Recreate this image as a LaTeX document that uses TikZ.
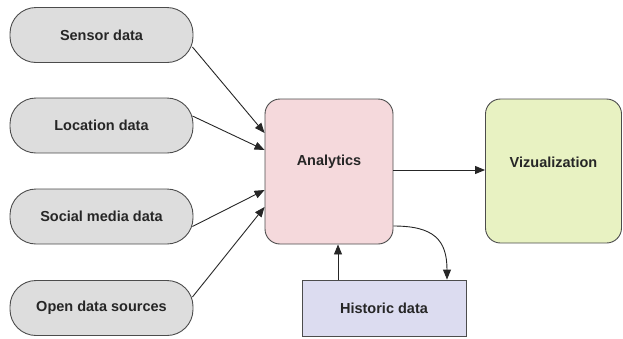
\documentclass[tikz,border=0pt]{standalone}
\usepackage{fontspec}
\setmainfont{Liberation Sans}
\usetikzlibrary{arrows.meta,calc}
\definecolor{pillgray}{HTML}{DDDDDD}
\definecolor{anapink}{HTML}{F5D9DC}
\definecolor{vizgreen}{HTML}{E8F2C2}
\definecolor{histblue}{HTML}{DCDCF0}
\begin{document}
\begin{tikzpicture}[x=1pt,y=-1pt,
  every node/.style={font=\bfseries\fontsize{14.5}{17}\selectfont, text=black!85},
  pill/.style={draw=black!70, line width=0.9pt, fill=pillgray, rounded corners=26pt,
    minimum width=183pt, minimum height=55pt, inner sep=0pt},
  bigbox/.style={draw=black!70, line width=0.9pt, rounded corners=15pt, inner sep=0pt},
  conn/.style={draw=black!85, line width=0.9pt, -{Triangle[length=10pt,width=8pt]}}]
\useasboundingbox (0,0) rectangle (623,338);
\node[pill] (sensor) at (101.5,35) {Sensor data};
\node[pill] (location) at (101.5,125.5) {Location data};
\node[pill] (social) at (101.5,216.5) {Social media data};
\node[pill] (open) at (101.5,308) {Open data sources};
\node[bigbox, fill=anapink, minimum width=128pt, minimum height=145pt] (analytics) at (329,171.5) {};
\node (analyticslabel) at (329,162) {Analytics};
\node[bigbox, fill=vizgreen, minimum width=136pt, minimum height=144pt] (viz) at (553.5,171) {};
\node (vizlabel) at (553.5,162) {Vizualization};
\node[draw=black!70, line width=0.9pt, fill=histblue, minimum width=164pt, minimum height=56pt, inner sep=0pt] (historic) at (384,308) {Historic data};
\draw[conn] ($(sensor.east)+(-1,12)$) -- ($(analytics.west)+(0,-38.5)$);
\draw[conn] ($(location.east)+(-1,-9.5)$) -- ($(analytics.west)+(0,-21.5)$);
\draw[conn] ($(social.east)+(-1,10)$) -- ($(analytics.west)+(0,18.5)$);
\draw[conn] ($(open.east)+(-1,-11)$) -- ($(analytics.west)+(0,35.5)$);
\draw[conn] ($(analytics.east)+(0,-1.5)$) -- ($(viz.west)+(0,-1)$);
\draw[conn] ($(historic.north)+(-46,0)$) -- ($(analytics.south)+(9,0)$);
\draw[conn] ($(analytics.east)+(0,54.5)$) .. controls ($(analytics.east)+(40,54.5)$) and ($(historic.north)+(63,-40)$) .. ($(historic.north)+(63,0)$);
\end{tikzpicture}
\end{document}
